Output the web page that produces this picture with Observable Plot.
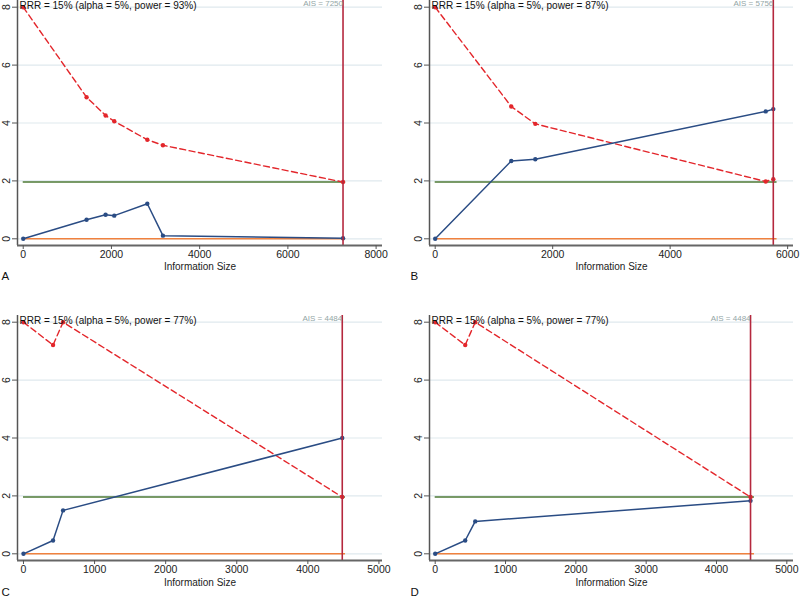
<!DOCTYPE html>
<html><head><meta charset="utf-8">
<script src="https://cdn.jsdelivr.net/npm/d3@7"></script>
<script src="https://cdn.jsdelivr.net/npm/@observablehq/plot@0.6"></script>
<style>
body{margin:0;background:#fff;}
#wrap{position:relative;width:800px;height:599px;font-family:"Liberation Sans",Arial,Helvetica,sans-serif;}
.panel{position:absolute;}
</style></head><body><div id="wrap"></div>
<script>
// ---- data ----
const panelLetters = ["A", "B", "C", "D"];
const rrrPct = 15, alphaPct = 5;
const powerPct = [93, 87, 77, 77];
const aisValues = [7250, 5756, 4484, 4484];
const zCrit = 1.96;
const yTicks = [0, 2, 4, 6, 8];
const xTicksA = [0, 2000, 4000, 6000, 8000];
const xTicksB = [0, 2000, 4000, 6000];
const xTicksC = [0, 1000, 2000, 3000, 4000, 5000];
const xTicksD = [0, 1000, 2000, 3000, 4000, 5000];
// horizontal reference lines run from 0 to slightly past the AIS
const refLineEnd = [7310, 5820, 4530, 4540];

// cumulative information size, cumulative z-curve, monitoring boundary
const sizeA = [0, 1436, 1867, 2064, 2813, 3167, 7250];
const zA = [0, 0.66, 0.83, 0.80, 1.21, 0.11, 0.02];
const boundA = [8, 4.89, 4.26, 4.06, 3.42, 3.23, 1.96];

const sizeB = [0, 1295, 1704, 5627, 5756];
const zB = [0, 2.69, 2.75, 4.40, 4.48];
const boundB = [8, 4.57, 3.97, 1.98, 2.06];

const sizeC = [0, 416, 557, 4484];
const zC = [0, 0.46, 1.50, 4.00];
const boundC = [8, 7.21, 8, 1.96];

const sizeD = [0, 427, 569, 4484];
const zD = [0, 0.46, 1.12, 1.83];
const boundD = [8, 7.21, 8, 1.96];

// ---- layout/scales ----
const sizes = [sizeA, sizeB, sizeC, sizeD];
const zs = [zA, zB, zC, zD];
const bounds = [boundA, boundB, boundC, boundD];
const xTicks = [xTicksA, xTicksB, xTicksC, xTicksD];
const xDomains = [[-130, 8145], [-97, 6100], [-84, 5050], [-81, 5095]];
const yDomain = [-0.231, 8.231];

const wrap = document.getElementById("wrap");
const fmt = d3.format("d");

function panel(i) {
  const top = i < 2;
  const left = i % 2 === 0;
  const mL = left ? 17 : 29, mR = left ? 18 : 7;
  const height = top ? 315 : 284;
  const mB = top ? 70 : 39;
  const rows = sizes[i].map((s, j) => ({size: s, z: zs[i][j], b: bounds[i][j]}));
  const ais = aisValues[i];
  const xd = xDomains[i];
  const chart = Plot.plot({
    width: 400, height,
    marginLeft: mL, marginRight: mR, marginTop: 0, marginBottom: mB,
    style: {fontFamily: '"Liberation Sans", Arial, Helvetica, sans-serif', fontSize: "10.5px", color: "#222", background: "transparent", overflow: "visible"},
    x: {domain: xd},
    y: {domain: yDomain},
    marks: [
      Plot.gridY(yTicks, {stroke: "#dfe9ee", strokeOpacity: 1, strokeWidth: 1.2}),
      Plot.ruleY([{y: zCrit, x1: 0, x2: refLineEnd[i]}], {y: "y", x1: "x1", x2: "x2", stroke: "#4e7a36", strokeWidth: 1.5}),
      Plot.ruleY([{y: 0, x1: 0, x2: refLineEnd[i]}], {y: "y", x1: "x1", x2: "x2", stroke: "#f0813e", strokeWidth: 1.5}),
      Plot.line(rows, {x: "size", y: "b", stroke: "#e3262b", strokeWidth: 1.4, strokeDasharray: "6,3.5"}),
      Plot.dot(rows, {x: "size", y: "b", fill: "#e3262b", r: 2.2}),
      Plot.line(rows, {x: "size", y: "z", stroke: "#2a4c84", strokeWidth: 1.5}),
      Plot.dot(rows, {x: "size", y: "z", fill: "#2a4c84", r: 2.2}),
      Plot.ruleX([ais], {stroke: "#b5283e", strokeWidth: 1.6}),
      Plot.ruleX([xd[0]], {stroke: "#555", strokeWidth: 1.5}),
      Plot.ruleY([yDomain[0]], {stroke: "#666", strokeWidth: 1.8}),
      Plot.axisX({ticks: xTicks[i], tickFormat: fmt, tickSize: 4, tickPadding: 1, label: null, stroke: "#555", fill: "#222"}),
      Plot.axisY({ticks: yTicks, tickSize: 5, tickPadding: 3, tickRotate: -90, label: null, stroke: "#555", fill: "#222"}),
      Plot.text([`RRR = ${rrrPct}% (alpha = ${alphaPct}%, power = ${powerPct[i]}%)`], {frameAnchor: "top-left", textAnchor: "start", lineAnchor: "middle", dx: 2, dy: 5, fontSize: 10, fill: "#111"}),
      Plot.text([ais], {x: d => d, frameAnchor: "top", text: d => `AIS = ${d}`, textAnchor: "end", lineAnchor: "middle", dy: 3.3, fontSize: 8, fill: "#93a6a6"}),
      Plot.text(["Information Size"], {frameAnchor: "bottom", lineAnchor: "middle", dy: top ? 21 : 22, fontSize: 10, fill: "#222"}),
      Plot.text([panelLetters[i]], {frameAnchor: "bottom-left", textAnchor: "start", lineAnchor: "middle", dx: -(mL - (left ? 1 : 10)), dy: top ? 31 : 32, fontSize: 11.5, fill: "#111"})
    ]
  });
  chart.classList.add("panel");
  chart.style.left = (left ? 0 : 400) + "px";
  chart.style.top = (top ? 0 : 315) + "px";
  wrap.appendChild(chart);
}
[0, 1, 2, 3].forEach(panel);
</script>
</body></html>
